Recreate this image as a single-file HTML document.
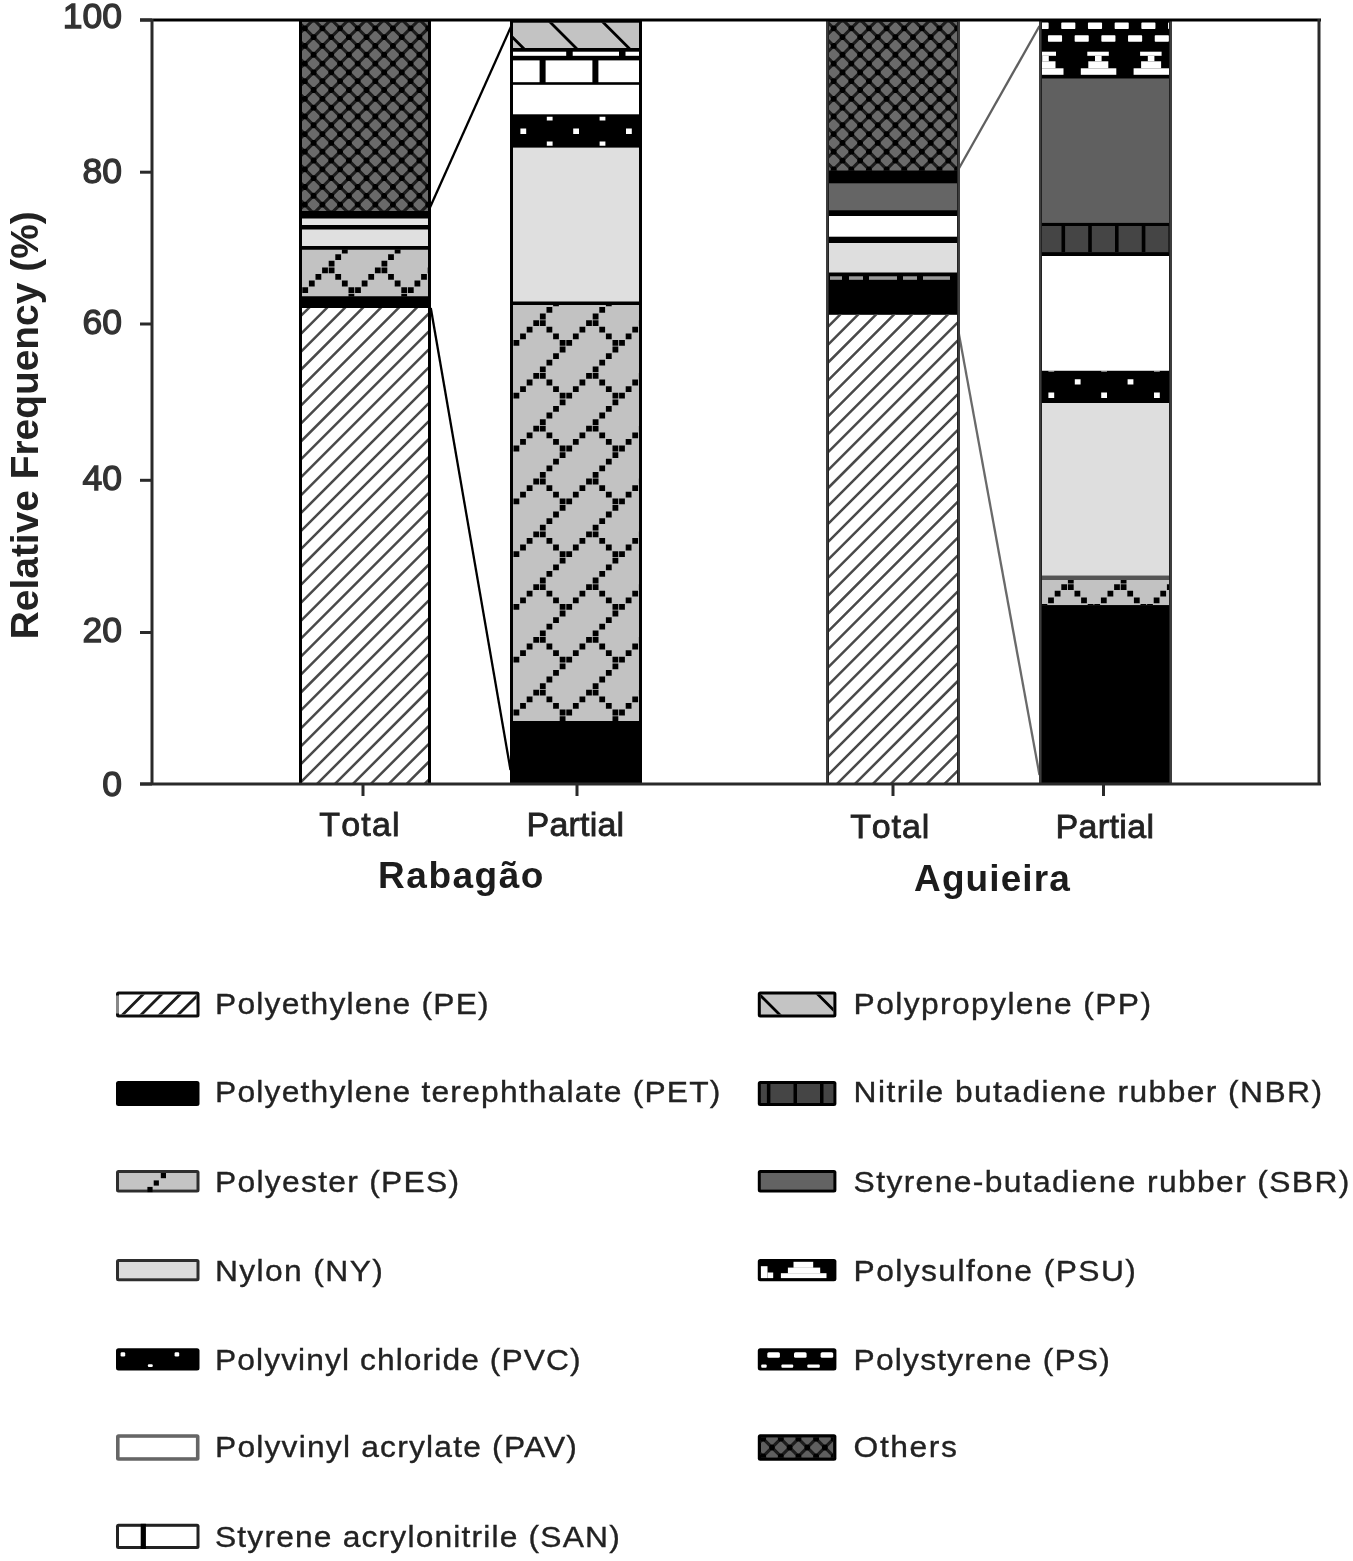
<!DOCTYPE html>
<html><head><meta charset="utf-8"><style>
html,body{margin:0;padding:0;background:#fff;}
svg{display:block;}
text{font-family:"Liberation Sans", sans-serif;}
</style></head><body>
<svg width="1353" height="1561" viewBox="0 0 1353 1561">
<defs><clipPath id="c1"><rect x="302" y="21.5" width="126" height="189.5"/></clipPath><clipPath id="c2"><rect x="302" y="249.5" width="126" height="47"/></clipPath><clipPath id="c3"><rect x="302" y="308" width="126" height="476"/></clipPath><clipPath id="c4"><rect x="513" y="22.4" width="126" height="25.6"/></clipPath><clipPath id="c5"><rect x="513" y="116.8" width="126" height="28.9"/></clipPath><clipPath id="c6"><rect x="513" y="305" width="126" height="416"/></clipPath><clipPath id="c7"><rect x="829" y="21.5" width="128" height="149.2"/></clipPath><clipPath id="c8"><rect x="829" y="314.6" width="128" height="469.4"/></clipPath><clipPath id="c9"><rect x="1042" y="21.5" width="127" height="21.8"/></clipPath><clipPath id="c10"><rect x="1042" y="225.7" width="127" height="26.7"/></clipPath><clipPath id="c11"><rect x="1042" y="370.8" width="127" height="32.1"/></clipPath><clipPath id="c12"><rect x="1042" y="580" width="127" height="25.3"/></clipPath><clipPath id="c13"><rect x="1042" y="51" width="127" height="24"/></clipPath><clipPath id="c14"><rect x="119" y="994.5" width="77.5" height="20"/></clipPath><clipPath id="c15"><rect x="760.8" y="994.5" width="72.6" height="20"/></clipPath><clipPath id="c16"><rect x="760.8" y="1437.2" width="72.6" height="20.6"/></clipPath><filter id="soft" x="0" y="0" width="100%" height="100%" filterUnits="userSpaceOnUse"><feGaussianBlur stdDeviation="0.5"/></filter></defs>
<g filter="url(#soft)"><rect width="1353" height="1561" fill="#fff"/>
<line x1="428.4" y1="211" x2="511" y2="26.6" stroke="#000" stroke-width="2.3"/>
<line x1="430.8" y1="308" x2="510.5" y2="770" stroke="#000" stroke-width="2.3"/>
<line x1="957.6" y1="170.7" x2="1039.5" y2="26" stroke="#606060" stroke-width="2.3"/>
<line x1="955.4" y1="314.6" x2="1039.5" y2="775" stroke="#6a6a6a" stroke-width="2.3"/>
<rect x="299" y="20" width="132" height="764" fill="#000"/>
<g clip-path="url(#c1)"><rect x="302" y="21.5" width="126" height="189.5" fill="#6a6a6a"/><path d="M296,1.84L434,-136.16M296,19.47L434,-118.53M296,37.1L434,-100.9M296,54.73L434,-83.27M296,72.36L434,-65.64M296,89.99L434,-48.01M296,107.62L434,-30.38M296,125.25L434,-12.75M296,142.88L434,4.88M296,160.51L434,22.51M296,178.14L434,40.14M296,195.77L434,57.77M296,213.4L434,75.4M296,231.03L434,93.03M296,248.66L434,110.66M296,266.29L434,128.29M296,283.92L434,145.92M296,301.55L434,163.55M296,319.18L434,181.18M296,336.81L434,198.81M296,354.44L434,216.44M296,372.07L434,234.07M296,231.06L434,369.06M296,213.43L434,351.43M296,195.8L434,333.8M296,178.17L434,316.17M296,160.54L434,298.54M296,142.91L434,280.91M296,125.28L434,263.28M296,107.65L434,245.65M296,90.02L434,228.02M296,72.39L434,210.39M296,54.76L434,192.76M296,37.13L434,175.13M296,19.5L434,157.5M296,1.87L434,139.87M296,-15.76L434,122.24M296,-33.39L434,104.61M296,-51.02L434,86.98M296,-68.65L434,69.35M296,-86.28L434,51.72M296,-103.91L434,34.09M296,-121.54L434,16.46M296,-139.17L434,-1.17" stroke="#1c1c1c" stroke-width="3.1" fill="none"/><path d="M301.9,28.3a2.9,2.9 0 1,0 5.8,0a2.9,2.9 0 1,0 -5.8,0M310.72,19.48a2.9,2.9 0 1,0 5.8,0a2.9,2.9 0 1,0 -5.8,0M301.9,45.93a2.9,2.9 0 1,0 5.8,0a2.9,2.9 0 1,0 -5.8,0M310.72,37.11a2.9,2.9 0 1,0 5.8,0a2.9,2.9 0 1,0 -5.8,0M319.53,28.3a2.9,2.9 0 1,0 5.8,0a2.9,2.9 0 1,0 -5.8,0M328.35,19.48a2.9,2.9 0 1,0 5.8,0a2.9,2.9 0 1,0 -5.8,0M301.9,63.56a2.9,2.9 0 1,0 5.8,0a2.9,2.9 0 1,0 -5.8,0M310.72,54.74a2.9,2.9 0 1,0 5.8,0a2.9,2.9 0 1,0 -5.8,0M319.53,45.93a2.9,2.9 0 1,0 5.8,0a2.9,2.9 0 1,0 -5.8,0M328.35,37.11a2.9,2.9 0 1,0 5.8,0a2.9,2.9 0 1,0 -5.8,0M337.16,28.3a2.9,2.9 0 1,0 5.8,0a2.9,2.9 0 1,0 -5.8,0M345.98,19.48a2.9,2.9 0 1,0 5.8,0a2.9,2.9 0 1,0 -5.8,0M301.9,81.19a2.9,2.9 0 1,0 5.8,0a2.9,2.9 0 1,0 -5.8,0M310.72,72.37a2.9,2.9 0 1,0 5.8,0a2.9,2.9 0 1,0 -5.8,0M319.53,63.56a2.9,2.9 0 1,0 5.8,0a2.9,2.9 0 1,0 -5.8,0M328.35,54.74a2.9,2.9 0 1,0 5.8,0a2.9,2.9 0 1,0 -5.8,0M337.16,45.93a2.9,2.9 0 1,0 5.8,0a2.9,2.9 0 1,0 -5.8,0M345.98,37.11a2.9,2.9 0 1,0 5.8,0a2.9,2.9 0 1,0 -5.8,0M354.79,28.3a2.9,2.9 0 1,0 5.8,0a2.9,2.9 0 1,0 -5.8,0M363.61,19.48a2.9,2.9 0 1,0 5.8,0a2.9,2.9 0 1,0 -5.8,0M301.9,98.82a2.9,2.9 0 1,0 5.8,0a2.9,2.9 0 1,0 -5.8,0M310.72,90a2.9,2.9 0 1,0 5.8,0a2.9,2.9 0 1,0 -5.8,0M319.53,81.19a2.9,2.9 0 1,0 5.8,0a2.9,2.9 0 1,0 -5.8,0M328.35,72.37a2.9,2.9 0 1,0 5.8,0a2.9,2.9 0 1,0 -5.8,0M337.16,63.56a2.9,2.9 0 1,0 5.8,0a2.9,2.9 0 1,0 -5.8,0M345.98,54.74a2.9,2.9 0 1,0 5.8,0a2.9,2.9 0 1,0 -5.8,0M354.79,45.93a2.9,2.9 0 1,0 5.8,0a2.9,2.9 0 1,0 -5.8,0M363.61,37.11a2.9,2.9 0 1,0 5.8,0a2.9,2.9 0 1,0 -5.8,0M372.42,28.3a2.9,2.9 0 1,0 5.8,0a2.9,2.9 0 1,0 -5.8,0M381.24,19.48a2.9,2.9 0 1,0 5.8,0a2.9,2.9 0 1,0 -5.8,0M301.9,116.45a2.9,2.9 0 1,0 5.8,0a2.9,2.9 0 1,0 -5.8,0M310.71,107.63a2.9,2.9 0 1,0 5.8,0a2.9,2.9 0 1,0 -5.8,0M319.53,98.82a2.9,2.9 0 1,0 5.8,0a2.9,2.9 0 1,0 -5.8,0M328.35,90a2.9,2.9 0 1,0 5.8,0a2.9,2.9 0 1,0 -5.8,0M337.16,81.19a2.9,2.9 0 1,0 5.8,0a2.9,2.9 0 1,0 -5.8,0M345.98,72.37a2.9,2.9 0 1,0 5.8,0a2.9,2.9 0 1,0 -5.8,0M354.79,63.56a2.9,2.9 0 1,0 5.8,0a2.9,2.9 0 1,0 -5.8,0M363.61,54.74a2.9,2.9 0 1,0 5.8,0a2.9,2.9 0 1,0 -5.8,0M372.42,45.93a2.9,2.9 0 1,0 5.8,0a2.9,2.9 0 1,0 -5.8,0M381.24,37.11a2.9,2.9 0 1,0 5.8,0a2.9,2.9 0 1,0 -5.8,0M390.05,28.3a2.9,2.9 0 1,0 5.8,0a2.9,2.9 0 1,0 -5.8,0M398.87,19.48a2.9,2.9 0 1,0 5.8,0a2.9,2.9 0 1,0 -5.8,0M301.9,134.08a2.9,2.9 0 1,0 5.8,0a2.9,2.9 0 1,0 -5.8,0M310.72,125.27a2.9,2.9 0 1,0 5.8,0a2.9,2.9 0 1,0 -5.8,0M319.53,116.45a2.9,2.9 0 1,0 5.8,0a2.9,2.9 0 1,0 -5.8,0M328.35,107.63a2.9,2.9 0 1,0 5.8,0a2.9,2.9 0 1,0 -5.8,0M337.16,98.82a2.9,2.9 0 1,0 5.8,0a2.9,2.9 0 1,0 -5.8,0M345.98,90a2.9,2.9 0 1,0 5.8,0a2.9,2.9 0 1,0 -5.8,0M354.79,81.19a2.9,2.9 0 1,0 5.8,0a2.9,2.9 0 1,0 -5.8,0M363.61,72.38a2.9,2.9 0 1,0 5.8,0a2.9,2.9 0 1,0 -5.8,0M372.42,63.56a2.9,2.9 0 1,0 5.8,0a2.9,2.9 0 1,0 -5.8,0M381.24,54.75a2.9,2.9 0 1,0 5.8,0a2.9,2.9 0 1,0 -5.8,0M390.05,45.93a2.9,2.9 0 1,0 5.8,0a2.9,2.9 0 1,0 -5.8,0M398.87,37.12a2.9,2.9 0 1,0 5.8,0a2.9,2.9 0 1,0 -5.8,0M407.68,28.3a2.9,2.9 0 1,0 5.8,0a2.9,2.9 0 1,0 -5.8,0M416.5,19.49a2.9,2.9 0 1,0 5.8,0a2.9,2.9 0 1,0 -5.8,0M301.9,151.71a2.9,2.9 0 1,0 5.8,0a2.9,2.9 0 1,0 -5.8,0M310.72,142.89a2.9,2.9 0 1,0 5.8,0a2.9,2.9 0 1,0 -5.8,0M319.53,134.08a2.9,2.9 0 1,0 5.8,0a2.9,2.9 0 1,0 -5.8,0M328.35,125.27a2.9,2.9 0 1,0 5.8,0a2.9,2.9 0 1,0 -5.8,0M337.16,116.45a2.9,2.9 0 1,0 5.8,0a2.9,2.9 0 1,0 -5.8,0M345.98,107.63a2.9,2.9 0 1,0 5.8,0a2.9,2.9 0 1,0 -5.8,0M354.79,98.82a2.9,2.9 0 1,0 5.8,0a2.9,2.9 0 1,0 -5.8,0M363.61,90a2.9,2.9 0 1,0 5.8,0a2.9,2.9 0 1,0 -5.8,0M372.42,81.19a2.9,2.9 0 1,0 5.8,0a2.9,2.9 0 1,0 -5.8,0M381.24,72.38a2.9,2.9 0 1,0 5.8,0a2.9,2.9 0 1,0 -5.8,0M390.05,63.56a2.9,2.9 0 1,0 5.8,0a2.9,2.9 0 1,0 -5.8,0M398.87,54.75a2.9,2.9 0 1,0 5.8,0a2.9,2.9 0 1,0 -5.8,0M407.68,45.93a2.9,2.9 0 1,0 5.8,0a2.9,2.9 0 1,0 -5.8,0M416.5,37.12a2.9,2.9 0 1,0 5.8,0a2.9,2.9 0 1,0 -5.8,0M425.31,28.3a2.9,2.9 0 1,0 5.8,0a2.9,2.9 0 1,0 -5.8,0M301.9,169.34a2.9,2.9 0 1,0 5.8,0a2.9,2.9 0 1,0 -5.8,0M310.72,160.52a2.9,2.9 0 1,0 5.8,0a2.9,2.9 0 1,0 -5.8,0M319.53,151.71a2.9,2.9 0 1,0 5.8,0a2.9,2.9 0 1,0 -5.8,0M328.35,142.89a2.9,2.9 0 1,0 5.8,0a2.9,2.9 0 1,0 -5.8,0M337.16,134.08a2.9,2.9 0 1,0 5.8,0a2.9,2.9 0 1,0 -5.8,0M345.98,125.26a2.9,2.9 0 1,0 5.8,0a2.9,2.9 0 1,0 -5.8,0M354.79,116.45a2.9,2.9 0 1,0 5.8,0a2.9,2.9 0 1,0 -5.8,0M363.61,107.63a2.9,2.9 0 1,0 5.8,0a2.9,2.9 0 1,0 -5.8,0M372.42,98.82a2.9,2.9 0 1,0 5.8,0a2.9,2.9 0 1,0 -5.8,0M381.24,90a2.9,2.9 0 1,0 5.8,0a2.9,2.9 0 1,0 -5.8,0M390.05,81.19a2.9,2.9 0 1,0 5.8,0a2.9,2.9 0 1,0 -5.8,0M398.87,72.38a2.9,2.9 0 1,0 5.8,0a2.9,2.9 0 1,0 -5.8,0M407.68,63.56a2.9,2.9 0 1,0 5.8,0a2.9,2.9 0 1,0 -5.8,0M416.5,54.75a2.9,2.9 0 1,0 5.8,0a2.9,2.9 0 1,0 -5.8,0M425.31,45.93a2.9,2.9 0 1,0 5.8,0a2.9,2.9 0 1,0 -5.8,0M301.9,186.97a2.9,2.9 0 1,0 5.8,0a2.9,2.9 0 1,0 -5.8,0M310.72,178.15a2.9,2.9 0 1,0 5.8,0a2.9,2.9 0 1,0 -5.8,0M319.53,169.34a2.9,2.9 0 1,0 5.8,0a2.9,2.9 0 1,0 -5.8,0M328.35,160.52a2.9,2.9 0 1,0 5.8,0a2.9,2.9 0 1,0 -5.8,0M337.16,151.71a2.9,2.9 0 1,0 5.8,0a2.9,2.9 0 1,0 -5.8,0M345.98,142.89a2.9,2.9 0 1,0 5.8,0a2.9,2.9 0 1,0 -5.8,0M354.79,134.08a2.9,2.9 0 1,0 5.8,0a2.9,2.9 0 1,0 -5.8,0M363.61,125.26a2.9,2.9 0 1,0 5.8,0a2.9,2.9 0 1,0 -5.8,0M372.42,116.45a2.9,2.9 0 1,0 5.8,0a2.9,2.9 0 1,0 -5.8,0M381.24,107.63a2.9,2.9 0 1,0 5.8,0a2.9,2.9 0 1,0 -5.8,0M390.05,98.82a2.9,2.9 0 1,0 5.8,0a2.9,2.9 0 1,0 -5.8,0M398.87,90a2.9,2.9 0 1,0 5.8,0a2.9,2.9 0 1,0 -5.8,0M407.68,81.19a2.9,2.9 0 1,0 5.8,0a2.9,2.9 0 1,0 -5.8,0M416.5,72.38a2.9,2.9 0 1,0 5.8,0a2.9,2.9 0 1,0 -5.8,0M425.31,63.56a2.9,2.9 0 1,0 5.8,0a2.9,2.9 0 1,0 -5.8,0M301.9,204.6a2.9,2.9 0 1,0 5.8,0a2.9,2.9 0 1,0 -5.8,0M310.72,195.78a2.9,2.9 0 1,0 5.8,0a2.9,2.9 0 1,0 -5.8,0M319.53,186.97a2.9,2.9 0 1,0 5.8,0a2.9,2.9 0 1,0 -5.8,0M328.35,178.15a2.9,2.9 0 1,0 5.8,0a2.9,2.9 0 1,0 -5.8,0M337.16,169.34a2.9,2.9 0 1,0 5.8,0a2.9,2.9 0 1,0 -5.8,0M345.98,160.52a2.9,2.9 0 1,0 5.8,0a2.9,2.9 0 1,0 -5.8,0M354.79,151.71a2.9,2.9 0 1,0 5.8,0a2.9,2.9 0 1,0 -5.8,0M363.61,142.89a2.9,2.9 0 1,0 5.8,0a2.9,2.9 0 1,0 -5.8,0M372.42,134.08a2.9,2.9 0 1,0 5.8,0a2.9,2.9 0 1,0 -5.8,0M381.24,125.26a2.9,2.9 0 1,0 5.8,0a2.9,2.9 0 1,0 -5.8,0M390.05,116.45a2.9,2.9 0 1,0 5.8,0a2.9,2.9 0 1,0 -5.8,0M398.87,107.63a2.9,2.9 0 1,0 5.8,0a2.9,2.9 0 1,0 -5.8,0M407.68,98.82a2.9,2.9 0 1,0 5.8,0a2.9,2.9 0 1,0 -5.8,0M416.5,90a2.9,2.9 0 1,0 5.8,0a2.9,2.9 0 1,0 -5.8,0M425.31,81.19a2.9,2.9 0 1,0 5.8,0a2.9,2.9 0 1,0 -5.8,0M310.72,213.41a2.9,2.9 0 1,0 5.8,0a2.9,2.9 0 1,0 -5.8,0M319.53,204.6a2.9,2.9 0 1,0 5.8,0a2.9,2.9 0 1,0 -5.8,0M328.35,195.78a2.9,2.9 0 1,0 5.8,0a2.9,2.9 0 1,0 -5.8,0M337.16,186.97a2.9,2.9 0 1,0 5.8,0a2.9,2.9 0 1,0 -5.8,0M345.98,178.15a2.9,2.9 0 1,0 5.8,0a2.9,2.9 0 1,0 -5.8,0M354.79,169.34a2.9,2.9 0 1,0 5.8,0a2.9,2.9 0 1,0 -5.8,0M363.61,160.52a2.9,2.9 0 1,0 5.8,0a2.9,2.9 0 1,0 -5.8,0M372.42,151.71a2.9,2.9 0 1,0 5.8,0a2.9,2.9 0 1,0 -5.8,0M381.24,142.89a2.9,2.9 0 1,0 5.8,0a2.9,2.9 0 1,0 -5.8,0M390.05,134.08a2.9,2.9 0 1,0 5.8,0a2.9,2.9 0 1,0 -5.8,0M398.87,125.26a2.9,2.9 0 1,0 5.8,0a2.9,2.9 0 1,0 -5.8,0M407.68,116.45a2.9,2.9 0 1,0 5.8,0a2.9,2.9 0 1,0 -5.8,0M416.5,107.63a2.9,2.9 0 1,0 5.8,0a2.9,2.9 0 1,0 -5.8,0M425.31,98.82a2.9,2.9 0 1,0 5.8,0a2.9,2.9 0 1,0 -5.8,0M328.35,213.41a2.9,2.9 0 1,0 5.8,0a2.9,2.9 0 1,0 -5.8,0M337.16,204.6a2.9,2.9 0 1,0 5.8,0a2.9,2.9 0 1,0 -5.8,0M345.98,195.78a2.9,2.9 0 1,0 5.8,0a2.9,2.9 0 1,0 -5.8,0M354.79,186.97a2.9,2.9 0 1,0 5.8,0a2.9,2.9 0 1,0 -5.8,0M363.61,178.15a2.9,2.9 0 1,0 5.8,0a2.9,2.9 0 1,0 -5.8,0M372.42,169.34a2.9,2.9 0 1,0 5.8,0a2.9,2.9 0 1,0 -5.8,0M381.24,160.52a2.9,2.9 0 1,0 5.8,0a2.9,2.9 0 1,0 -5.8,0M390.05,151.71a2.9,2.9 0 1,0 5.8,0a2.9,2.9 0 1,0 -5.8,0M398.87,142.89a2.9,2.9 0 1,0 5.8,0a2.9,2.9 0 1,0 -5.8,0M407.68,134.08a2.9,2.9 0 1,0 5.8,0a2.9,2.9 0 1,0 -5.8,0M416.5,125.26a2.9,2.9 0 1,0 5.8,0a2.9,2.9 0 1,0 -5.8,0M425.31,116.45a2.9,2.9 0 1,0 5.8,0a2.9,2.9 0 1,0 -5.8,0M345.98,213.41a2.9,2.9 0 1,0 5.8,0a2.9,2.9 0 1,0 -5.8,0M354.79,204.6a2.9,2.9 0 1,0 5.8,0a2.9,2.9 0 1,0 -5.8,0M363.61,195.78a2.9,2.9 0 1,0 5.8,0a2.9,2.9 0 1,0 -5.8,0M372.42,186.97a2.9,2.9 0 1,0 5.8,0a2.9,2.9 0 1,0 -5.8,0M381.24,178.15a2.9,2.9 0 1,0 5.8,0a2.9,2.9 0 1,0 -5.8,0M390.05,169.34a2.9,2.9 0 1,0 5.8,0a2.9,2.9 0 1,0 -5.8,0M398.87,160.52a2.9,2.9 0 1,0 5.8,0a2.9,2.9 0 1,0 -5.8,0M407.68,151.71a2.9,2.9 0 1,0 5.8,0a2.9,2.9 0 1,0 -5.8,0M416.5,142.89a2.9,2.9 0 1,0 5.8,0a2.9,2.9 0 1,0 -5.8,0M425.31,134.08a2.9,2.9 0 1,0 5.8,0a2.9,2.9 0 1,0 -5.8,0M363.61,213.41a2.9,2.9 0 1,0 5.8,0a2.9,2.9 0 1,0 -5.8,0M372.42,204.6a2.9,2.9 0 1,0 5.8,0a2.9,2.9 0 1,0 -5.8,0M381.24,195.78a2.9,2.9 0 1,0 5.8,0a2.9,2.9 0 1,0 -5.8,0M390.05,186.97a2.9,2.9 0 1,0 5.8,0a2.9,2.9 0 1,0 -5.8,0M398.87,178.15a2.9,2.9 0 1,0 5.8,0a2.9,2.9 0 1,0 -5.8,0M407.68,169.34a2.9,2.9 0 1,0 5.8,0a2.9,2.9 0 1,0 -5.8,0M416.5,160.52a2.9,2.9 0 1,0 5.8,0a2.9,2.9 0 1,0 -5.8,0M425.31,151.71a2.9,2.9 0 1,0 5.8,0a2.9,2.9 0 1,0 -5.8,0M381.24,213.41a2.9,2.9 0 1,0 5.8,0a2.9,2.9 0 1,0 -5.8,0M390.05,204.6a2.9,2.9 0 1,0 5.8,0a2.9,2.9 0 1,0 -5.8,0M398.87,195.78a2.9,2.9 0 1,0 5.8,0a2.9,2.9 0 1,0 -5.8,0M407.68,186.97a2.9,2.9 0 1,0 5.8,0a2.9,2.9 0 1,0 -5.8,0M416.5,178.15a2.9,2.9 0 1,0 5.8,0a2.9,2.9 0 1,0 -5.8,0M425.31,169.34a2.9,2.9 0 1,0 5.8,0a2.9,2.9 0 1,0 -5.8,0M398.87,213.41a2.9,2.9 0 1,0 5.8,0a2.9,2.9 0 1,0 -5.8,0M407.68,204.6a2.9,2.9 0 1,0 5.8,0a2.9,2.9 0 1,0 -5.8,0M416.5,195.78a2.9,2.9 0 1,0 5.8,0a2.9,2.9 0 1,0 -5.8,0M425.31,186.97a2.9,2.9 0 1,0 5.8,0a2.9,2.9 0 1,0 -5.8,0M416.5,213.41a2.9,2.9 0 1,0 5.8,0a2.9,2.9 0 1,0 -5.8,0M425.31,204.6a2.9,2.9 0 1,0 5.8,0a2.9,2.9 0 1,0 -5.8,0" fill="#000"/></g>
<rect x="302" y="218.5" width="126" height="6.5" fill="#e4e4e4"/>
<rect x="302" y="229.5" width="126" height="16.5" fill="#e0e0e0"/>
<g clip-path="url(#c2)"><rect x="302" y="249.5" width="126" height="47" fill="#c2c2c2"/><path d="M308.9,280.6h5.8v5.8h-5.8zM315.5,274h5.8v5.8h-5.8zM322.1,267.4h5.8v5.8h-5.8zM328.7,260.8h5.8v5.8h-5.8zM335.3,254.2h5.8v5.8h-5.8zM341.9,247.6h5.8v5.8h-5.8zM328.7,267.4h5.8v5.8h-5.8zM335.3,274h5.8v5.8h-5.8zM341.9,280.6h5.8v5.8h-5.8zM302.3,287.2h5.8v5.8h-5.8zM348.5,293.8h5.8v5.8h-5.8zM348.5,287.2h5.8v5.8h-5.8zM361.7,280.6h5.8v5.8h-5.8zM368.3,274h5.8v5.8h-5.8zM374.9,267.4h5.8v5.8h-5.8zM381.5,260.8h5.8v5.8h-5.8zM388.1,254.2h5.8v5.8h-5.8zM394.7,247.6h5.8v5.8h-5.8zM381.5,267.4h5.8v5.8h-5.8zM388.1,274h5.8v5.8h-5.8zM394.7,280.6h5.8v5.8h-5.8zM355.1,287.2h5.8v5.8h-5.8zM401.3,293.8h5.8v5.8h-5.8zM401.3,287.2h5.8v5.8h-5.8zM414.5,280.6h5.8v5.8h-5.8zM421.1,274h5.8v5.8h-5.8zM427.7,267.4h5.8v5.8h-5.8zM407.9,287.2h5.8v5.8h-5.8z" fill="#000"/></g>
<g clip-path="url(#c3)"><rect x="302" y="308" width="126" height="476" fill="#fff"/><path d="M296,284.99L434,146.99M296,302.92L434,164.92M296,320.85L434,182.85M296,338.78L434,200.78M296,356.71L434,218.71M296,374.64L434,236.64M296,392.57L434,254.57M296,410.5L434,272.5M296,428.43L434,290.43M296,446.36L434,308.36M296,464.29L434,326.29M296,482.22L434,344.22M296,500.15L434,362.15M296,518.08L434,380.08M296,536.01L434,398.01M296,553.94L434,415.94M296,571.87L434,433.87M296,589.8L434,451.8M296,607.73L434,469.73M296,625.66L434,487.66M296,643.59L434,505.59M296,661.52L434,523.52M296,679.45L434,541.45M296,697.38L434,559.38M296,715.31L434,577.31M296,733.24L434,595.24M296,751.17L434,613.17M296,769.1L434,631.1M296,787.03L434,649.03M296,804.96L434,666.96M296,822.89L434,684.89M296,840.82L434,702.82M296,858.75L434,720.75M296,876.68L434,738.68M296,894.61L434,756.61M296,912.54L434,774.54M296,930.47L434,792.47M296,948.4L434,810.4" stroke="#4a4a4a" stroke-width="2.5" fill="none"/></g>
<rect x="510" y="20" width="132" height="764" fill="#000"/>
<g clip-path="url(#c4)"><rect x="513" y="22.4" width="126" height="25.6" fill="#c3c3c3"/><path d="M507,137.4L645,275.4M507,84.6L645,222.6M507,31.8L645,169.8M507,-21L645,117M507,-73.8L645,64.2M507,-126.6L645,11.4M507,-179.4L645,-41.4" stroke="#000" stroke-width="2.8" fill="none"/></g>
<rect x="513" y="51.7" width="126" height="4.1" fill="#fff"/>
<rect x="513" y="60.4" width="126" height="21.8" fill="#fff"/>
<rect x="513" y="84.8" width="126" height="29.5" fill="#fff"/>
<g clip-path="url(#c5)"><rect x="513" y="116.8" width="126" height="28.9" fill="#000"/><path d="M520.4,128.5h5.8v5.4h-5.8zM573.2,128.5h5.8v5.4h-5.8zM626,128.5h5.8v5.4h-5.8zM546.8,115.2h5.8v5.4h-5.8zM546.8,141.6h5.8v5.4h-5.8zM599.6,115.2h5.8v5.4h-5.8zM599.6,141.6h5.8v5.4h-5.8z" fill="#fff"/></g>
<rect x="513" y="147.6" width="126" height="153.9" fill="#dfdfdf"/>
<g clip-path="url(#c6)"><rect x="513" y="305" width="126" height="416" fill="#c2c2c2"/><path d="M520.1,333.4h5.8v5.8h-5.8zM526.7,326.8h5.8v5.8h-5.8zM533.3,320.2h5.8v5.8h-5.8zM539.9,313.6h5.8v5.8h-5.8zM546.5,307h5.8v5.8h-5.8zM553.1,300.4h5.8v5.8h-5.8zM539.9,320.2h5.8v5.8h-5.8zM546.5,326.8h5.8v5.8h-5.8zM553.1,333.4h5.8v5.8h-5.8zM513.5,340h5.8v5.8h-5.8zM520.1,386.2h5.8v5.8h-5.8zM526.7,379.6h5.8v5.8h-5.8zM533.3,373h5.8v5.8h-5.8zM539.9,366.4h5.8v5.8h-5.8zM546.5,359.8h5.8v5.8h-5.8zM553.1,353.2h5.8v5.8h-5.8zM559.7,346.6h5.8v5.8h-5.8zM539.9,373h5.8v5.8h-5.8zM546.5,379.6h5.8v5.8h-5.8zM553.1,386.2h5.8v5.8h-5.8zM559.7,340h5.8v5.8h-5.8zM513.5,392.8h5.8v5.8h-5.8zM520.1,439h5.8v5.8h-5.8zM526.7,432.4h5.8v5.8h-5.8zM533.3,425.8h5.8v5.8h-5.8zM539.9,419.2h5.8v5.8h-5.8zM546.5,412.6h5.8v5.8h-5.8zM553.1,406h5.8v5.8h-5.8zM559.7,399.4h5.8v5.8h-5.8zM539.9,425.8h5.8v5.8h-5.8zM546.5,432.4h5.8v5.8h-5.8zM553.1,439h5.8v5.8h-5.8zM559.7,392.8h5.8v5.8h-5.8zM513.5,445.6h5.8v5.8h-5.8zM520.1,491.8h5.8v5.8h-5.8zM526.7,485.2h5.8v5.8h-5.8zM533.3,478.6h5.8v5.8h-5.8zM539.9,472h5.8v5.8h-5.8zM546.5,465.4h5.8v5.8h-5.8zM553.1,458.8h5.8v5.8h-5.8zM559.7,452.2h5.8v5.8h-5.8zM539.9,478.6h5.8v5.8h-5.8zM546.5,485.2h5.8v5.8h-5.8zM553.1,491.8h5.8v5.8h-5.8zM559.7,445.6h5.8v5.8h-5.8zM513.5,498.4h5.8v5.8h-5.8zM520.1,544.6h5.8v5.8h-5.8zM526.7,538h5.8v5.8h-5.8zM533.3,531.4h5.8v5.8h-5.8zM539.9,524.8h5.8v5.8h-5.8zM546.5,518.2h5.8v5.8h-5.8zM553.1,511.6h5.8v5.8h-5.8zM559.7,505h5.8v5.8h-5.8zM539.9,531.4h5.8v5.8h-5.8zM546.5,538h5.8v5.8h-5.8zM553.1,544.6h5.8v5.8h-5.8zM559.7,498.4h5.8v5.8h-5.8zM513.5,551.2h5.8v5.8h-5.8zM520.1,597.4h5.8v5.8h-5.8zM526.7,590.8h5.8v5.8h-5.8zM533.3,584.2h5.8v5.8h-5.8zM539.9,577.6h5.8v5.8h-5.8zM546.5,571h5.8v5.8h-5.8zM553.1,564.4h5.8v5.8h-5.8zM559.7,557.8h5.8v5.8h-5.8zM539.9,584.2h5.8v5.8h-5.8zM546.5,590.8h5.8v5.8h-5.8zM553.1,597.4h5.8v5.8h-5.8zM559.7,551.2h5.8v5.8h-5.8zM513.5,604h5.8v5.8h-5.8zM520.1,650.2h5.8v5.8h-5.8zM526.7,643.6h5.8v5.8h-5.8zM533.3,637h5.8v5.8h-5.8zM539.9,630.4h5.8v5.8h-5.8zM546.5,623.8h5.8v5.8h-5.8zM553.1,617.2h5.8v5.8h-5.8zM559.7,610.6h5.8v5.8h-5.8zM539.9,637h5.8v5.8h-5.8zM546.5,643.6h5.8v5.8h-5.8zM553.1,650.2h5.8v5.8h-5.8zM559.7,604h5.8v5.8h-5.8zM513.5,656.8h5.8v5.8h-5.8zM520.1,703h5.8v5.8h-5.8zM526.7,696.4h5.8v5.8h-5.8zM533.3,689.8h5.8v5.8h-5.8zM539.9,683.2h5.8v5.8h-5.8zM546.5,676.6h5.8v5.8h-5.8zM553.1,670h5.8v5.8h-5.8zM559.7,663.4h5.8v5.8h-5.8zM539.9,689.8h5.8v5.8h-5.8zM546.5,696.4h5.8v5.8h-5.8zM553.1,703h5.8v5.8h-5.8zM559.7,656.8h5.8v5.8h-5.8zM513.5,709.6h5.8v5.8h-5.8zM559.7,716.2h5.8v5.8h-5.8zM559.7,709.6h5.8v5.8h-5.8zM572.9,333.4h5.8v5.8h-5.8zM579.5,326.8h5.8v5.8h-5.8zM586.1,320.2h5.8v5.8h-5.8zM592.7,313.6h5.8v5.8h-5.8zM599.3,307h5.8v5.8h-5.8zM605.9,300.4h5.8v5.8h-5.8zM592.7,320.2h5.8v5.8h-5.8zM599.3,326.8h5.8v5.8h-5.8zM605.9,333.4h5.8v5.8h-5.8zM566.3,340h5.8v5.8h-5.8zM572.9,386.2h5.8v5.8h-5.8zM579.5,379.6h5.8v5.8h-5.8zM586.1,373h5.8v5.8h-5.8zM592.7,366.4h5.8v5.8h-5.8zM599.3,359.8h5.8v5.8h-5.8zM605.9,353.2h5.8v5.8h-5.8zM612.5,346.6h5.8v5.8h-5.8zM592.7,373h5.8v5.8h-5.8zM599.3,379.6h5.8v5.8h-5.8zM605.9,386.2h5.8v5.8h-5.8zM612.5,340h5.8v5.8h-5.8zM566.3,392.8h5.8v5.8h-5.8zM572.9,439h5.8v5.8h-5.8zM579.5,432.4h5.8v5.8h-5.8zM586.1,425.8h5.8v5.8h-5.8zM592.7,419.2h5.8v5.8h-5.8zM599.3,412.6h5.8v5.8h-5.8zM605.9,406h5.8v5.8h-5.8zM612.5,399.4h5.8v5.8h-5.8zM592.7,425.8h5.8v5.8h-5.8zM599.3,432.4h5.8v5.8h-5.8zM605.9,439h5.8v5.8h-5.8zM612.5,392.8h5.8v5.8h-5.8zM566.3,445.6h5.8v5.8h-5.8zM572.9,491.8h5.8v5.8h-5.8zM579.5,485.2h5.8v5.8h-5.8zM586.1,478.6h5.8v5.8h-5.8zM592.7,472h5.8v5.8h-5.8zM599.3,465.4h5.8v5.8h-5.8zM605.9,458.8h5.8v5.8h-5.8zM612.5,452.2h5.8v5.8h-5.8zM592.7,478.6h5.8v5.8h-5.8zM599.3,485.2h5.8v5.8h-5.8zM605.9,491.8h5.8v5.8h-5.8zM612.5,445.6h5.8v5.8h-5.8zM566.3,498.4h5.8v5.8h-5.8zM572.9,544.6h5.8v5.8h-5.8zM579.5,538h5.8v5.8h-5.8zM586.1,531.4h5.8v5.8h-5.8zM592.7,524.8h5.8v5.8h-5.8zM599.3,518.2h5.8v5.8h-5.8zM605.9,511.6h5.8v5.8h-5.8zM612.5,505h5.8v5.8h-5.8zM592.7,531.4h5.8v5.8h-5.8zM599.3,538h5.8v5.8h-5.8zM605.9,544.6h5.8v5.8h-5.8zM612.5,498.4h5.8v5.8h-5.8zM566.3,551.2h5.8v5.8h-5.8zM572.9,597.4h5.8v5.8h-5.8zM579.5,590.8h5.8v5.8h-5.8zM586.1,584.2h5.8v5.8h-5.8zM592.7,577.6h5.8v5.8h-5.8zM599.3,571h5.8v5.8h-5.8zM605.9,564.4h5.8v5.8h-5.8zM612.5,557.8h5.8v5.8h-5.8zM592.7,584.2h5.8v5.8h-5.8zM599.3,590.8h5.8v5.8h-5.8zM605.9,597.4h5.8v5.8h-5.8zM612.5,551.2h5.8v5.8h-5.8zM566.3,604h5.8v5.8h-5.8zM572.9,650.2h5.8v5.8h-5.8zM579.5,643.6h5.8v5.8h-5.8zM586.1,637h5.8v5.8h-5.8zM592.7,630.4h5.8v5.8h-5.8zM599.3,623.8h5.8v5.8h-5.8zM605.9,617.2h5.8v5.8h-5.8zM612.5,610.6h5.8v5.8h-5.8zM592.7,637h5.8v5.8h-5.8zM599.3,643.6h5.8v5.8h-5.8zM605.9,650.2h5.8v5.8h-5.8zM612.5,604h5.8v5.8h-5.8zM566.3,656.8h5.8v5.8h-5.8zM572.9,703h5.8v5.8h-5.8zM579.5,696.4h5.8v5.8h-5.8zM586.1,689.8h5.8v5.8h-5.8zM592.7,683.2h5.8v5.8h-5.8zM599.3,676.6h5.8v5.8h-5.8zM605.9,670h5.8v5.8h-5.8zM612.5,663.4h5.8v5.8h-5.8zM592.7,689.8h5.8v5.8h-5.8zM599.3,696.4h5.8v5.8h-5.8zM605.9,703h5.8v5.8h-5.8zM612.5,656.8h5.8v5.8h-5.8zM566.3,709.6h5.8v5.8h-5.8zM612.5,716.2h5.8v5.8h-5.8zM612.5,709.6h5.8v5.8h-5.8zM625.7,333.4h5.8v5.8h-5.8zM632.3,326.8h5.8v5.8h-5.8zM638.9,320.2h5.8v5.8h-5.8zM619.1,340h5.8v5.8h-5.8zM625.7,386.2h5.8v5.8h-5.8zM632.3,379.6h5.8v5.8h-5.8zM638.9,373h5.8v5.8h-5.8zM619.1,392.8h5.8v5.8h-5.8zM625.7,439h5.8v5.8h-5.8zM632.3,432.4h5.8v5.8h-5.8zM638.9,425.8h5.8v5.8h-5.8zM619.1,445.6h5.8v5.8h-5.8zM625.7,491.8h5.8v5.8h-5.8zM632.3,485.2h5.8v5.8h-5.8zM638.9,478.6h5.8v5.8h-5.8zM619.1,498.4h5.8v5.8h-5.8zM625.7,544.6h5.8v5.8h-5.8zM632.3,538h5.8v5.8h-5.8zM638.9,531.4h5.8v5.8h-5.8zM619.1,551.2h5.8v5.8h-5.8zM625.7,597.4h5.8v5.8h-5.8zM632.3,590.8h5.8v5.8h-5.8zM638.9,584.2h5.8v5.8h-5.8zM619.1,604h5.8v5.8h-5.8zM625.7,650.2h5.8v5.8h-5.8zM632.3,643.6h5.8v5.8h-5.8zM638.9,637h5.8v5.8h-5.8zM619.1,656.8h5.8v5.8h-5.8zM625.7,703h5.8v5.8h-5.8zM632.3,696.4h5.8v5.8h-5.8zM638.9,689.8h5.8v5.8h-5.8zM619.1,709.6h5.8v5.8h-5.8z" fill="#000"/></g>
<rect x="539.6" y="60" width="6" height="23" fill="#000"/>
<rect x="592.4" y="60" width="6" height="23" fill="#000"/>
<rect x="566.2" y="51" width="6.5" height="6" fill="#000"/>
<rect x="619" y="51" width="6.5" height="6" fill="#000"/>
<rect x="826" y="20" width="134" height="764" fill="#000"/>
<g clip-path="url(#c7)"><rect x="829" y="21.5" width="128" height="149.2" fill="#6a6a6a"/><path d="M823,3.74L963,-136.26M823,21.37L963,-118.63M823,39L963,-101M823,56.63L963,-83.37M823,74.26L963,-65.74M823,91.89L963,-48.11M823,109.52L963,-30.48M823,127.15L963,-12.85M823,144.78L963,4.78M823,162.41L963,22.41M823,180.04L963,40.04M823,197.67L963,57.67M823,215.3L963,75.3M823,232.93L963,92.93M823,250.56L963,110.56M823,268.19L963,128.19M823,285.82L963,145.82M823,303.45L963,163.45M823,321.08L963,181.08M823,338.71L963,198.71M823,193.9L963,333.9M823,176.27L963,316.27M823,158.64L963,298.64M823,141.01L963,281.01M823,123.38L963,263.38M823,105.75L963,245.75M823,88.12L963,228.12M823,70.49L963,210.49M823,52.86L963,192.86M823,35.23L963,175.23M823,17.6L963,157.6M823,-0.03L963,139.97M823,-17.66L963,122.34M823,-35.29L963,104.71M823,-52.92L963,87.08M823,-70.55L963,69.45M823,-88.18L963,51.82M823,-105.81L963,34.19M823,-123.44L963,16.56M823,-141.07L963,-1.07" stroke="#1c1c1c" stroke-width="3.1" fill="none"/><path d="M830.8,28.3a2.9,2.9 0 1,0 5.8,0a2.9,2.9 0 1,0 -5.8,0M839.61,19.49a2.9,2.9 0 1,0 5.8,0a2.9,2.9 0 1,0 -5.8,0M830.8,45.93a2.9,2.9 0 1,0 5.8,0a2.9,2.9 0 1,0 -5.8,0M839.61,37.12a2.9,2.9 0 1,0 5.8,0a2.9,2.9 0 1,0 -5.8,0M848.43,28.3a2.9,2.9 0 1,0 5.8,0a2.9,2.9 0 1,0 -5.8,0M857.25,19.49a2.9,2.9 0 1,0 5.8,0a2.9,2.9 0 1,0 -5.8,0M830.8,63.56a2.9,2.9 0 1,0 5.8,0a2.9,2.9 0 1,0 -5.8,0M839.61,54.75a2.9,2.9 0 1,0 5.8,0a2.9,2.9 0 1,0 -5.8,0M848.43,45.93a2.9,2.9 0 1,0 5.8,0a2.9,2.9 0 1,0 -5.8,0M857.25,37.12a2.9,2.9 0 1,0 5.8,0a2.9,2.9 0 1,0 -5.8,0M866.06,28.3a2.9,2.9 0 1,0 5.8,0a2.9,2.9 0 1,0 -5.8,0M874.88,19.49a2.9,2.9 0 1,0 5.8,0a2.9,2.9 0 1,0 -5.8,0M830.8,81.19a2.9,2.9 0 1,0 5.8,0a2.9,2.9 0 1,0 -5.8,0M839.61,72.38a2.9,2.9 0 1,0 5.8,0a2.9,2.9 0 1,0 -5.8,0M848.43,63.56a2.9,2.9 0 1,0 5.8,0a2.9,2.9 0 1,0 -5.8,0M857.25,54.75a2.9,2.9 0 1,0 5.8,0a2.9,2.9 0 1,0 -5.8,0M866.06,45.93a2.9,2.9 0 1,0 5.8,0a2.9,2.9 0 1,0 -5.8,0M874.87,37.12a2.9,2.9 0 1,0 5.8,0a2.9,2.9 0 1,0 -5.8,0M883.69,28.3a2.9,2.9 0 1,0 5.8,0a2.9,2.9 0 1,0 -5.8,0M892.5,19.49a2.9,2.9 0 1,0 5.8,0a2.9,2.9 0 1,0 -5.8,0M830.8,98.82a2.9,2.9 0 1,0 5.8,0a2.9,2.9 0 1,0 -5.8,0M839.61,90.01a2.9,2.9 0 1,0 5.8,0a2.9,2.9 0 1,0 -5.8,0M848.43,81.19a2.9,2.9 0 1,0 5.8,0a2.9,2.9 0 1,0 -5.8,0M857.25,72.38a2.9,2.9 0 1,0 5.8,0a2.9,2.9 0 1,0 -5.8,0M866.06,63.56a2.9,2.9 0 1,0 5.8,0a2.9,2.9 0 1,0 -5.8,0M874.87,54.75a2.9,2.9 0 1,0 5.8,0a2.9,2.9 0 1,0 -5.8,0M883.69,45.93a2.9,2.9 0 1,0 5.8,0a2.9,2.9 0 1,0 -5.8,0M892.5,37.12a2.9,2.9 0 1,0 5.8,0a2.9,2.9 0 1,0 -5.8,0M901.32,28.3a2.9,2.9 0 1,0 5.8,0a2.9,2.9 0 1,0 -5.8,0M910.13,19.49a2.9,2.9 0 1,0 5.8,0a2.9,2.9 0 1,0 -5.8,0M830.8,116.45a2.9,2.9 0 1,0 5.8,0a2.9,2.9 0 1,0 -5.8,0M839.61,107.64a2.9,2.9 0 1,0 5.8,0a2.9,2.9 0 1,0 -5.8,0M848.43,98.82a2.9,2.9 0 1,0 5.8,0a2.9,2.9 0 1,0 -5.8,0M857.25,90.01a2.9,2.9 0 1,0 5.8,0a2.9,2.9 0 1,0 -5.8,0M866.06,81.19a2.9,2.9 0 1,0 5.8,0a2.9,2.9 0 1,0 -5.8,0M874.87,72.38a2.9,2.9 0 1,0 5.8,0a2.9,2.9 0 1,0 -5.8,0M883.69,63.56a2.9,2.9 0 1,0 5.8,0a2.9,2.9 0 1,0 -5.8,0M892.5,54.75a2.9,2.9 0 1,0 5.8,0a2.9,2.9 0 1,0 -5.8,0M901.32,45.93a2.9,2.9 0 1,0 5.8,0a2.9,2.9 0 1,0 -5.8,0M910.13,37.12a2.9,2.9 0 1,0 5.8,0a2.9,2.9 0 1,0 -5.8,0M918.95,28.3a2.9,2.9 0 1,0 5.8,0a2.9,2.9 0 1,0 -5.8,0M927.76,19.49a2.9,2.9 0 1,0 5.8,0a2.9,2.9 0 1,0 -5.8,0M830.8,134.08a2.9,2.9 0 1,0 5.8,0a2.9,2.9 0 1,0 -5.8,0M839.61,125.27a2.9,2.9 0 1,0 5.8,0a2.9,2.9 0 1,0 -5.8,0M848.43,116.45a2.9,2.9 0 1,0 5.8,0a2.9,2.9 0 1,0 -5.8,0M857.25,107.64a2.9,2.9 0 1,0 5.8,0a2.9,2.9 0 1,0 -5.8,0M866.06,98.82a2.9,2.9 0 1,0 5.8,0a2.9,2.9 0 1,0 -5.8,0M874.87,90.01a2.9,2.9 0 1,0 5.8,0a2.9,2.9 0 1,0 -5.8,0M883.69,81.19a2.9,2.9 0 1,0 5.8,0a2.9,2.9 0 1,0 -5.8,0M892.5,72.38a2.9,2.9 0 1,0 5.8,0a2.9,2.9 0 1,0 -5.8,0M901.32,63.56a2.9,2.9 0 1,0 5.8,0a2.9,2.9 0 1,0 -5.8,0M910.13,54.75a2.9,2.9 0 1,0 5.8,0a2.9,2.9 0 1,0 -5.8,0M918.95,45.93a2.9,2.9 0 1,0 5.8,0a2.9,2.9 0 1,0 -5.8,0M927.76,37.12a2.9,2.9 0 1,0 5.8,0a2.9,2.9 0 1,0 -5.8,0M936.58,28.3a2.9,2.9 0 1,0 5.8,0a2.9,2.9 0 1,0 -5.8,0M945.39,19.49a2.9,2.9 0 1,0 5.8,0a2.9,2.9 0 1,0 -5.8,0M830.8,151.71a2.9,2.9 0 1,0 5.8,0a2.9,2.9 0 1,0 -5.8,0M839.61,142.9a2.9,2.9 0 1,0 5.8,0a2.9,2.9 0 1,0 -5.8,0M848.43,134.08a2.9,2.9 0 1,0 5.8,0a2.9,2.9 0 1,0 -5.8,0M857.25,125.27a2.9,2.9 0 1,0 5.8,0a2.9,2.9 0 1,0 -5.8,0M866.06,116.45a2.9,2.9 0 1,0 5.8,0a2.9,2.9 0 1,0 -5.8,0M874.87,107.64a2.9,2.9 0 1,0 5.8,0a2.9,2.9 0 1,0 -5.8,0M883.69,98.82a2.9,2.9 0 1,0 5.8,0a2.9,2.9 0 1,0 -5.8,0M892.5,90.01a2.9,2.9 0 1,0 5.8,0a2.9,2.9 0 1,0 -5.8,0M901.32,81.19a2.9,2.9 0 1,0 5.8,0a2.9,2.9 0 1,0 -5.8,0M910.13,72.38a2.9,2.9 0 1,0 5.8,0a2.9,2.9 0 1,0 -5.8,0M918.95,63.56a2.9,2.9 0 1,0 5.8,0a2.9,2.9 0 1,0 -5.8,0M927.76,54.75a2.9,2.9 0 1,0 5.8,0a2.9,2.9 0 1,0 -5.8,0M936.58,45.93a2.9,2.9 0 1,0 5.8,0a2.9,2.9 0 1,0 -5.8,0M945.39,37.12a2.9,2.9 0 1,0 5.8,0a2.9,2.9 0 1,0 -5.8,0M954.21,28.3a2.9,2.9 0 1,0 5.8,0a2.9,2.9 0 1,0 -5.8,0M830.8,169.34a2.9,2.9 0 1,0 5.8,0a2.9,2.9 0 1,0 -5.8,0M839.61,160.53a2.9,2.9 0 1,0 5.8,0a2.9,2.9 0 1,0 -5.8,0M848.43,151.71a2.9,2.9 0 1,0 5.8,0a2.9,2.9 0 1,0 -5.8,0M857.25,142.9a2.9,2.9 0 1,0 5.8,0a2.9,2.9 0 1,0 -5.8,0M866.06,134.08a2.9,2.9 0 1,0 5.8,0a2.9,2.9 0 1,0 -5.8,0M874.87,125.27a2.9,2.9 0 1,0 5.8,0a2.9,2.9 0 1,0 -5.8,0M883.69,116.45a2.9,2.9 0 1,0 5.8,0a2.9,2.9 0 1,0 -5.8,0M892.5,107.64a2.9,2.9 0 1,0 5.8,0a2.9,2.9 0 1,0 -5.8,0M901.32,98.82a2.9,2.9 0 1,0 5.8,0a2.9,2.9 0 1,0 -5.8,0M910.13,90.01a2.9,2.9 0 1,0 5.8,0a2.9,2.9 0 1,0 -5.8,0M918.95,81.19a2.9,2.9 0 1,0 5.8,0a2.9,2.9 0 1,0 -5.8,0M927.76,72.38a2.9,2.9 0 1,0 5.8,0a2.9,2.9 0 1,0 -5.8,0M936.58,63.56a2.9,2.9 0 1,0 5.8,0a2.9,2.9 0 1,0 -5.8,0M945.39,54.75a2.9,2.9 0 1,0 5.8,0a2.9,2.9 0 1,0 -5.8,0M954.21,45.93a2.9,2.9 0 1,0 5.8,0a2.9,2.9 0 1,0 -5.8,0M848.43,169.34a2.9,2.9 0 1,0 5.8,0a2.9,2.9 0 1,0 -5.8,0M857.25,160.53a2.9,2.9 0 1,0 5.8,0a2.9,2.9 0 1,0 -5.8,0M866.06,151.71a2.9,2.9 0 1,0 5.8,0a2.9,2.9 0 1,0 -5.8,0M874.87,142.9a2.9,2.9 0 1,0 5.8,0a2.9,2.9 0 1,0 -5.8,0M883.69,134.08a2.9,2.9 0 1,0 5.8,0a2.9,2.9 0 1,0 -5.8,0M892.5,125.27a2.9,2.9 0 1,0 5.8,0a2.9,2.9 0 1,0 -5.8,0M901.32,116.45a2.9,2.9 0 1,0 5.8,0a2.9,2.9 0 1,0 -5.8,0M910.13,107.64a2.9,2.9 0 1,0 5.8,0a2.9,2.9 0 1,0 -5.8,0M918.95,98.82a2.9,2.9 0 1,0 5.8,0a2.9,2.9 0 1,0 -5.8,0M927.76,90.01a2.9,2.9 0 1,0 5.8,0a2.9,2.9 0 1,0 -5.8,0M936.58,81.19a2.9,2.9 0 1,0 5.8,0a2.9,2.9 0 1,0 -5.8,0M945.39,72.38a2.9,2.9 0 1,0 5.8,0a2.9,2.9 0 1,0 -5.8,0M954.21,63.56a2.9,2.9 0 1,0 5.8,0a2.9,2.9 0 1,0 -5.8,0M866.06,169.34a2.9,2.9 0 1,0 5.8,0a2.9,2.9 0 1,0 -5.8,0M874.87,160.53a2.9,2.9 0 1,0 5.8,0a2.9,2.9 0 1,0 -5.8,0M883.69,151.71a2.9,2.9 0 1,0 5.8,0a2.9,2.9 0 1,0 -5.8,0M892.5,142.9a2.9,2.9 0 1,0 5.8,0a2.9,2.9 0 1,0 -5.8,0M901.32,134.08a2.9,2.9 0 1,0 5.8,0a2.9,2.9 0 1,0 -5.8,0M910.13,125.27a2.9,2.9 0 1,0 5.8,0a2.9,2.9 0 1,0 -5.8,0M918.95,116.45a2.9,2.9 0 1,0 5.8,0a2.9,2.9 0 1,0 -5.8,0M927.76,107.64a2.9,2.9 0 1,0 5.8,0a2.9,2.9 0 1,0 -5.8,0M936.58,98.82a2.9,2.9 0 1,0 5.8,0a2.9,2.9 0 1,0 -5.8,0M945.39,90a2.9,2.9 0 1,0 5.8,0a2.9,2.9 0 1,0 -5.8,0M954.21,81.19a2.9,2.9 0 1,0 5.8,0a2.9,2.9 0 1,0 -5.8,0M883.69,169.34a2.9,2.9 0 1,0 5.8,0a2.9,2.9 0 1,0 -5.8,0M892.5,160.52a2.9,2.9 0 1,0 5.8,0a2.9,2.9 0 1,0 -5.8,0M901.32,151.71a2.9,2.9 0 1,0 5.8,0a2.9,2.9 0 1,0 -5.8,0M910.13,142.89a2.9,2.9 0 1,0 5.8,0a2.9,2.9 0 1,0 -5.8,0M918.95,134.08a2.9,2.9 0 1,0 5.8,0a2.9,2.9 0 1,0 -5.8,0M927.76,125.26a2.9,2.9 0 1,0 5.8,0a2.9,2.9 0 1,0 -5.8,0M936.58,116.45a2.9,2.9 0 1,0 5.8,0a2.9,2.9 0 1,0 -5.8,0M945.39,107.63a2.9,2.9 0 1,0 5.8,0a2.9,2.9 0 1,0 -5.8,0M954.21,98.82a2.9,2.9 0 1,0 5.8,0a2.9,2.9 0 1,0 -5.8,0M901.32,169.34a2.9,2.9 0 1,0 5.8,0a2.9,2.9 0 1,0 -5.8,0M910.13,160.53a2.9,2.9 0 1,0 5.8,0a2.9,2.9 0 1,0 -5.8,0M918.95,151.71a2.9,2.9 0 1,0 5.8,0a2.9,2.9 0 1,0 -5.8,0M927.76,142.9a2.9,2.9 0 1,0 5.8,0a2.9,2.9 0 1,0 -5.8,0M936.58,134.08a2.9,2.9 0 1,0 5.8,0a2.9,2.9 0 1,0 -5.8,0M945.39,125.27a2.9,2.9 0 1,0 5.8,0a2.9,2.9 0 1,0 -5.8,0M954.21,116.45a2.9,2.9 0 1,0 5.8,0a2.9,2.9 0 1,0 -5.8,0M918.95,169.34a2.9,2.9 0 1,0 5.8,0a2.9,2.9 0 1,0 -5.8,0M927.76,160.52a2.9,2.9 0 1,0 5.8,0a2.9,2.9 0 1,0 -5.8,0M936.58,151.71a2.9,2.9 0 1,0 5.8,0a2.9,2.9 0 1,0 -5.8,0M945.39,142.89a2.9,2.9 0 1,0 5.8,0a2.9,2.9 0 1,0 -5.8,0M954.21,134.08a2.9,2.9 0 1,0 5.8,0a2.9,2.9 0 1,0 -5.8,0M936.58,169.34a2.9,2.9 0 1,0 5.8,0a2.9,2.9 0 1,0 -5.8,0M945.39,160.53a2.9,2.9 0 1,0 5.8,0a2.9,2.9 0 1,0 -5.8,0M954.21,151.71a2.9,2.9 0 1,0 5.8,0a2.9,2.9 0 1,0 -5.8,0M954.21,169.34a2.9,2.9 0 1,0 5.8,0a2.9,2.9 0 1,0 -5.8,0" fill="#000"/></g>
<rect x="829" y="183.3" width="128" height="27" fill="#656565"/>
<rect x="829" y="216" width="128" height="20.7" fill="#fff"/>
<rect x="829" y="243" width="128" height="29.5" fill="#dedede"/>
<g clip-path="url(#c8)"><rect x="829" y="314.6" width="128" height="469.4" fill="#fff"/><path d="M823,295.89L963,155.89M823,313.82L963,173.82M823,331.75L963,191.75M823,349.68L963,209.68M823,367.61L963,227.61M823,385.54L963,245.54M823,403.47L963,263.47M823,421.4L963,281.4M823,439.33L963,299.33M823,457.26L963,317.26M823,475.19L963,335.19M823,493.12L963,353.12M823,511.05L963,371.05M823,528.98L963,388.98M823,546.91L963,406.91M823,564.84L963,424.84M823,582.77L963,442.77M823,600.7L963,460.7M823,618.63L963,478.63M823,636.56L963,496.56M823,654.49L963,514.49M823,672.42L963,532.42M823,690.35L963,550.35M823,708.28L963,568.28M823,726.21L963,586.21M823,744.14L963,604.14M823,762.07L963,622.07M823,780L963,640M823,797.93L963,657.93M823,815.86L963,675.86M823,833.79L963,693.79M823,851.72L963,711.72M823,869.65L963,729.65M823,887.58L963,747.58M823,905.51L963,765.51M823,923.44L963,783.44M823,941.37L963,801.37" stroke="#4a4a4a" stroke-width="2.5" fill="none"/></g>
<rect x="826" y="20" width="2.6" height="764" fill="#3c3c3c"/>
<rect x="957.4" y="20" width="2.6" height="764" fill="#3c3c3c"/>
<rect x="830" y="276.3" width="12" height="3.5" fill="#9a9a9a"/>
<rect x="849" y="276.3" width="14" height="3.5" fill="#9a9a9a"/>
<rect x="869" y="276.3" width="28" height="3.5" fill="#9a9a9a"/>
<rect x="903" y="276.3" width="14" height="3.5" fill="#9a9a9a"/>
<rect x="923" y="276.3" width="27" height="3.5" fill="#9a9a9a"/>
<rect x="1039" y="20" width="133" height="764" fill="#000"/>
<g clip-path="url(#c9)"><rect x="1042" y="21.5" width="127" height="21.8" fill="#000"/><path d="M1035.3,23.3h12.6v5h-12.6zM1062,23.3h12.6v5h-12.6zM1088.7,23.3h12.6v5h-12.6zM1115.4,23.3h12.6v5h-12.6zM1142.1,23.3h12.6v5h-12.6zM1168.8,23.3h12.6v5h-12.6zM1048.7,35.9h12.6v5h-12.6zM1075.4,35.9h12.6v5h-12.6zM1102.1,35.9h12.6v5h-12.6zM1128.8,35.9h12.6v5h-12.6zM1155.5,35.9h12.6v5h-12.6z" fill="#fff" stroke="#fff" stroke-width="1.5" stroke-linejoin="round"/></g>
<rect x="1042" y="78.5" width="127" height="144.4" fill="#616161"/>
<g clip-path="url(#c10)"><rect x="1042" y="225.7" width="127" height="26.7" fill="#454545"/><rect x="1008" y="225.7" width="3.6" height="26.7" fill="#000"/><rect x="1034.75" y="225.7" width="3.6" height="26.7" fill="#000"/><rect x="1061.5" y="225.7" width="3.6" height="26.7" fill="#000"/><rect x="1088.25" y="225.7" width="3.6" height="26.7" fill="#000"/><rect x="1115" y="225.7" width="3.6" height="26.7" fill="#000"/><rect x="1141.75" y="225.7" width="3.6" height="26.7" fill="#000"/><rect x="1168.5" y="225.7" width="3.6" height="26.7" fill="#000"/></g>
<rect x="1042" y="256" width="127" height="114.8" fill="#fff"/>
<g clip-path="url(#c11)"><rect x="1042" y="370.8" width="127" height="32.1" fill="#000"/><path d="M1048.4,366.1h5.8v5.4h-5.8zM1048.4,392.5h5.8v5.4h-5.8zM1101.2,366.1h5.8v5.4h-5.8zM1101.2,392.5h5.8v5.4h-5.8zM1154,366.1h5.8v5.4h-5.8zM1154,392.5h5.8v5.4h-5.8zM1074.8,379.2h5.8v5.4h-5.8zM1127.6,379.2h5.8v5.4h-5.8z" fill="#fff"/></g>
<rect x="1042" y="403" width="127" height="172.8" fill="#dedede"/>
<g clip-path="url(#c12)"><rect x="1042" y="580" width="127" height="25.3" fill="#c2c2c2"/><path d="M1048.1,597.4h5.8v5.8h-5.8zM1054.7,590.8h5.8v5.8h-5.8zM1061.3,584.2h5.8v5.8h-5.8zM1067.9,577.6h5.8v5.8h-5.8zM1067.9,584.2h5.8v5.8h-5.8zM1074.5,590.8h5.8v5.8h-5.8zM1081.1,597.4h5.8v5.8h-5.8zM1041.5,604h5.8v5.8h-5.8zM1087.7,604h5.8v5.8h-5.8zM1100.9,597.4h5.8v5.8h-5.8zM1107.5,590.8h5.8v5.8h-5.8zM1114.1,584.2h5.8v5.8h-5.8zM1120.7,577.6h5.8v5.8h-5.8zM1120.7,584.2h5.8v5.8h-5.8zM1127.3,590.8h5.8v5.8h-5.8zM1133.9,597.4h5.8v5.8h-5.8zM1094.3,604h5.8v5.8h-5.8zM1140.5,604h5.8v5.8h-5.8zM1153.7,597.4h5.8v5.8h-5.8zM1160.3,590.8h5.8v5.8h-5.8zM1166.9,584.2h5.8v5.8h-5.8zM1147.1,604h5.8v5.8h-5.8z" fill="#000"/></g>
<rect x="1039" y="20" width="2.6" height="764" fill="#3c3c3c"/>
<rect x="1169.4" y="20" width="2.6" height="764" fill="#3c3c3c"/>
<g clip-path="url(#c13)"><rect x="981.7" y="51.7" width="21.5" height="4.1" fill="#fff"/><rect x="989.4" y="55.8" width="6.6" height="5.5" fill="#fff"/><rect x="982.7" y="61.3" width="20" height="7" fill="#fff"/><rect x="975.2" y="68.3" width="35.5" height="6.5" fill="#fff"/><rect x="1034.5" y="51.7" width="21.5" height="4.1" fill="#fff"/><rect x="1042.2" y="55.8" width="6.6" height="5.5" fill="#fff"/><rect x="1035.5" y="61.3" width="20" height="7" fill="#fff"/><rect x="1028" y="68.3" width="35.5" height="6.5" fill="#fff"/><rect x="1087.3" y="51.7" width="21.5" height="4.1" fill="#fff"/><rect x="1095" y="55.8" width="6.6" height="5.5" fill="#fff"/><rect x="1088.3" y="61.3" width="20" height="7" fill="#fff"/><rect x="1080.8" y="68.3" width="35.5" height="6.5" fill="#fff"/><rect x="1140.1" y="51.7" width="21.5" height="4.1" fill="#fff"/><rect x="1147.8" y="55.8" width="6.6" height="5.5" fill="#fff"/><rect x="1141.1" y="61.3" width="20" height="7" fill="#fff"/><rect x="1133.6" y="68.3" width="35.5" height="6.5" fill="#fff"/><rect x="1192.9" y="51.7" width="21.5" height="4.1" fill="#fff"/><rect x="1200.6" y="55.8" width="6.6" height="5.5" fill="#fff"/><rect x="1193.9" y="61.3" width="20" height="7" fill="#fff"/><rect x="1186.4" y="68.3" width="35.5" height="6.5" fill="#fff"/></g>
<rect x="1042" y="575.8" width="127" height="4.2" fill="#555"/>
<rect x="140" y="18.5" width="1181" height="3" fill="#050505"/>
<rect x="140" y="782.5" width="1181" height="3" fill="#2a2a2a"/>
<rect x="150.5" y="19" width="3" height="766" fill="#2a2a2a"/>
<rect x="1317.5" y="19" width="3" height="766" fill="#2a2a2a"/>
<rect x="140" y="18.5" width="12" height="3" fill="#2a2a2a"/>
<text x="122" y="27.5" font-size="35.5" fill="#333" stroke="#333" stroke-width="1.3" text-anchor="end">100</text>
<rect x="140" y="170.7" width="12" height="3" fill="#2a2a2a"/>
<text x="122" y="182.5" font-size="35.5" fill="#333" stroke="#333" stroke-width="1.3" text-anchor="end">80</text>
<rect x="140" y="322.5" width="12" height="3" fill="#2a2a2a"/>
<text x="122" y="333.9" font-size="35.5" fill="#333" stroke="#333" stroke-width="1.3" text-anchor="end">60</text>
<rect x="140" y="478.8" width="12" height="3" fill="#2a2a2a"/>
<text x="122" y="489.8" font-size="35.5" fill="#333" stroke="#333" stroke-width="1.3" text-anchor="end">40</text>
<rect x="140" y="631" width="12" height="3" fill="#2a2a2a"/>
<text x="122" y="641.6" font-size="35.5" fill="#333" stroke="#333" stroke-width="1.3" text-anchor="end">20</text>
<rect x="140" y="782.5" width="12" height="3" fill="#2a2a2a"/>
<text x="122" y="795.5" font-size="35.5" fill="#333" stroke="#333" stroke-width="1.3" text-anchor="end">0</text>
<rect x="361.5" y="784" width="3" height="12" fill="#2a2a2a"/>
<rect x="575.5" y="784" width="3" height="12" fill="#2a2a2a"/>
<rect x="891.5" y="784" width="3" height="12" fill="#2a2a2a"/>
<rect x="1102" y="784" width="3" height="12" fill="#2a2a2a"/>
<text transform="translate(38,425.3) rotate(-90)" font-size="38.9" font-weight="bold" fill="#222" text-anchor="middle">Relative Frequency (%)</text>
<text x="360" y="835.5" font-size="34" fill="#222" stroke="#222" stroke-width="0.8" text-anchor="middle" letter-spacing="1.2" style="font-kerning:none">Total</text>
<text x="575.4" y="835.5" font-size="34" fill="#222" stroke="#222" stroke-width="0.8" text-anchor="middle" letter-spacing="0.2" style="font-kerning:none">Partial</text>
<text x="890.2" y="837.5" font-size="34" fill="#222" stroke="#222" stroke-width="0.8" text-anchor="middle" letter-spacing="0.9" style="font-kerning:none">Total</text>
<text x="1105" y="837.5" font-size="34" fill="#222" stroke="#222" stroke-width="0.8" text-anchor="middle" letter-spacing="0.4" style="font-kerning:none">Partial</text>
<text x="461.5" y="888" font-size="37" font-weight="bold" fill="#1a1a1a" text-anchor="middle" letter-spacing="1.5">Rabagão</text>
<text x="992.5" y="890.5" font-size="37" font-weight="bold" fill="#1a1a1a" text-anchor="middle" letter-spacing="1.1">Aguieira</text>
<rect x="116" y="991.5" width="83.5" height="26" rx="2.5" fill="#111"/>
<rect x="119" y="994.5" width="77.5" height="20" fill="#fff"/>
<g clip-path="url(#c14)"><path d="M117.4,1020L147.4,990M135.9,1020L165.9,990M154.4,1020L184.4,990M172.9,1020L202.9,990" stroke="#1a1a1a" stroke-width="2.8"/></g>
<rect x="116" y="995.5" width="3" height="18" fill="#888"/>
<rect x="116" y="1081" width="83.5" height="25" rx="2.5" fill="#000"/>
<rect x="119" y="1084" width="77.5" height="19" fill="#000"/>
<rect x="116" y="1170" width="83.5" height="22.6" rx="2.5" fill="#2e2e2e"/>
<rect x="119" y="1173" width="77.5" height="16.6" fill="#c4c4c4"/>
<rect x="147.4" y="1186.9" width="5.2" height="5.2" fill="#000"/>
<rect x="153.7" y="1180.4" width="5.2" height="5.2" fill="#000"/>
<rect x="160.8" y="1173" width="5.2" height="5.2" fill="#000"/>
<rect x="116" y="1259" width="83.5" height="22.3" rx="2.5" fill="#2e2e2e"/>
<rect x="119" y="1262" width="77.5" height="16.3" fill="#dcdcdc"/>
<rect x="116" y="1348.3" width="83.5" height="22.3" rx="2.5" fill="#000"/>
<rect x="119" y="1351.3" width="77.5" height="16.3" fill="#000"/>
<rect x="120.6" y="1352.3" width="4.6" height="4.2" rx="1.2" fill="#fff"/>
<rect x="174.6" y="1352.3" width="4.6" height="4.2" rx="1.2" fill="#fff"/>
<rect x="147.8" y="1364.3" width="5" height="2.6" rx="1.2" fill="#fff"/>
<rect x="116" y="1434.2" width="83.5" height="26.6" rx="2.5" fill="#666"/>
<rect x="119.6" y="1437.8" width="76.3" height="19.4" fill="#fff"/>
<rect x="116" y="1523.8" width="83.5" height="25.2" rx="2.5" fill="#222"/>
<rect x="119" y="1526.8" width="77.5" height="19.2" fill="#fff"/>
<rect x="140.7" y="1523.8" width="5.2" height="25.2" fill="#000"/>
<rect x="757.8" y="991.5" width="78.6" height="26" rx="2.5" fill="#000"/>
<rect x="760.8" y="994.5" width="72.6" height="20" fill="#c4c4c4"/>
<g clip-path="url(#c15)"><path d="M755,990L785,1020M813.5,990L843.5,1020" stroke="#000" stroke-width="2.8"/></g>
<rect x="757.8" y="1081" width="78.6" height="25" rx="2.5" fill="#000"/>
<rect x="760.8" y="1084" width="72.6" height="19" fill="#454545"/>
<rect x="766.9" y="1081" width="3.5" height="25" fill="#000"/>
<rect x="793.5" y="1081" width="3.5" height="25" fill="#000"/>
<rect x="820" y="1081" width="3.5" height="25" fill="#000"/>
<rect x="757.8" y="1170" width="78.6" height="22.6" rx="2.5" fill="#000"/>
<rect x="760.8" y="1173" width="72.6" height="16.6" fill="#646464"/>
<rect x="757.8" y="1259" width="78.6" height="22.3" rx="2.5" fill="#000"/>
<rect x="760.8" y="1262" width="72.6" height="16.3" fill="#000"/>
<rect x="760.9" y="1266.2" width="6.6" height="11.9" fill="#fff"/>
<rect x="767.5" y="1272.5" width="5.7" height="5.6" fill="#fff"/>
<rect x="780.9" y="1273.2" width="45.6" height="4.9" fill="#fff"/>
<rect x="787.9" y="1267.6" width="32.3" height="5.8" fill="#fff"/>
<rect x="793.5" y="1261.8" width="19.7" height="6" fill="#fff"/>
<rect x="757.8" y="1348.3" width="78.6" height="22.3" rx="2.5" fill="#000"/>
<rect x="760.8" y="1351.3" width="72.6" height="16.3" fill="#000"/>
<rect x="767.3" y="1352.3" width="12.6" height="5.4" rx="1.5" fill="#fff"/>
<rect x="794" y="1352.3" width="12.6" height="5.4" rx="1.5" fill="#fff"/>
<rect x="820.6" y="1352.3" width="12.6" height="5.4" rx="1.5" fill="#fff"/>
<rect x="761.2" y="1364.5" width="5.5" height="3.2" rx="1" fill="#fff"/>
<rect x="781.4" y="1364.5" width="11.8" height="3.2" rx="1" fill="#fff"/>
<rect x="807.3" y="1364.5" width="12.5" height="3.2" rx="1" fill="#fff"/>
<rect x="757.8" y="1434.2" width="78.6" height="26.6" rx="2.5" fill="#000"/>
<g clip-path="url(#c16)"><rect x="760.8" y="1437.2" width="72.6" height="20.6" fill="#5e5e5e"/><path d="M754.8,1411.82L839.4,1327.22M754.8,1429.45L839.4,1344.85M754.8,1447.08L839.4,1362.48M754.8,1464.71L839.4,1380.11M754.8,1482.34L839.4,1397.74M754.8,1499.97L839.4,1415.37M754.8,1517.6L839.4,1433M754.8,1535.23L839.4,1450.63M754.8,1552.86L839.4,1468.26M754.8,1570.49L839.4,1485.89M754.8,1483.21L839.4,1567.81M754.8,1465.58L839.4,1550.18M754.8,1447.95L839.4,1532.55M754.8,1430.32L839.4,1514.92M754.8,1412.69L839.4,1497.29M754.8,1395.06L839.4,1479.66M754.8,1377.43L839.4,1462.03M754.8,1359.8L839.4,1444.4M754.8,1342.17L839.4,1426.77M754.8,1324.54L839.4,1409.14" stroke="#1c1c1c" stroke-width="3.1" fill="none"/><path d="M760.28,1438.7a2.9,2.9 0 1,0 5.8,0a2.9,2.9 0 1,0 -5.8,0M760.28,1456.33a2.9,2.9 0 1,0 5.8,0a2.9,2.9 0 1,0 -5.8,0M769.1,1447.52a2.9,2.9 0 1,0 5.8,0a2.9,2.9 0 1,0 -5.8,0M777.91,1438.7a2.9,2.9 0 1,0 5.8,0a2.9,2.9 0 1,0 -5.8,0M777.91,1456.33a2.9,2.9 0 1,0 5.8,0a2.9,2.9 0 1,0 -5.8,0M786.73,1447.51a2.9,2.9 0 1,0 5.8,0a2.9,2.9 0 1,0 -5.8,0M795.54,1438.7a2.9,2.9 0 1,0 5.8,0a2.9,2.9 0 1,0 -5.8,0M795.54,1456.33a2.9,2.9 0 1,0 5.8,0a2.9,2.9 0 1,0 -5.8,0M804.36,1447.51a2.9,2.9 0 1,0 5.8,0a2.9,2.9 0 1,0 -5.8,0M813.17,1438.7a2.9,2.9 0 1,0 5.8,0a2.9,2.9 0 1,0 -5.8,0M813.17,1456.33a2.9,2.9 0 1,0 5.8,0a2.9,2.9 0 1,0 -5.8,0M821.99,1447.52a2.9,2.9 0 1,0 5.8,0a2.9,2.9 0 1,0 -5.8,0M830.8,1438.7a2.9,2.9 0 1,0 5.8,0a2.9,2.9 0 1,0 -5.8,0M830.8,1456.33a2.9,2.9 0 1,0 5.8,0a2.9,2.9 0 1,0 -5.8,0" fill="#000"/></g>
<text transform="translate(215,1013.5) scale(1.06,1)" font-size="30" fill="#222" stroke="#222" stroke-width="0.35" letter-spacing="1.133">Polyethylene (PE)</text>
<text transform="translate(215,1102.3) scale(1.06,1)" font-size="30" fill="#222" stroke="#222" stroke-width="0.35" letter-spacing="1.129">Polyethylene terephthalate (PET)</text>
<text transform="translate(215,1191.7) scale(1.06,1)" font-size="30" fill="#222" stroke="#222" stroke-width="0.35" letter-spacing="1.214">Polyester (PES)</text>
<text transform="translate(215,1280.6) scale(1.06,1)" font-size="30" fill="#222" stroke="#222" stroke-width="0.35" letter-spacing="1.297">Nylon (NY)</text>
<text transform="translate(215,1369.7) scale(1.06,1)" font-size="30" fill="#222" stroke="#222" stroke-width="0.35" letter-spacing="1.012">Polyvinyl chloride (PVC)</text>
<text transform="translate(215,1457.2) scale(1.06,1)" font-size="30" fill="#222" stroke="#222" stroke-width="0.35" letter-spacing="1.126">Polyvinyl acrylate (PAV)</text>
<text transform="translate(215,1546.6) scale(1.06,1)" font-size="30" fill="#222" stroke="#222" stroke-width="0.35" letter-spacing="1.096">Styrene acrylonitrile (SAN)</text>
<text transform="translate(853.6,1013.5) scale(1.06,1)" font-size="30" fill="#222" stroke="#222" stroke-width="0.35" letter-spacing="1.305">Polypropylene (PP)</text>
<text transform="translate(853.6,1102.3) scale(1.06,1)" font-size="30" fill="#222" stroke="#222" stroke-width="0.35" letter-spacing="1.326">Nitrile butadiene rubber (NBR)</text>
<text transform="translate(853.6,1191.7) scale(1.06,1)" font-size="30" fill="#222" stroke="#222" stroke-width="0.35" letter-spacing="1.295">Styrene-butadiene rubber (SBR)</text>
<text transform="translate(853.6,1280.6) scale(1.06,1)" font-size="30" fill="#222" stroke="#222" stroke-width="0.35" letter-spacing="1.326">Polysulfone (PSU)</text>
<text transform="translate(853.6,1369.7) scale(1.06,1)" font-size="30" fill="#222" stroke="#222" stroke-width="0.35" letter-spacing="1.113">Polystyrene (PS)</text>
<text transform="translate(853.6,1457.2) scale(1.06,1)" font-size="30" fill="#222" stroke="#222" stroke-width="0.35" letter-spacing="1.472">Others</text></g></svg></body></html>
